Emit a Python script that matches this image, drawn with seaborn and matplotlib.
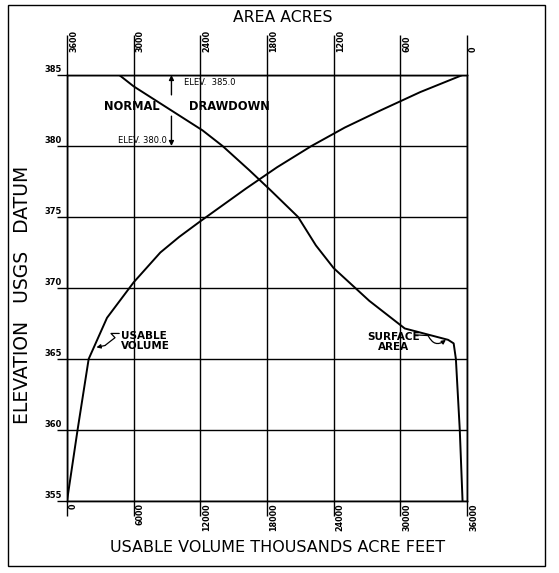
import matplotlib
matplotlib.use("Agg")
import matplotlib.pyplot as plt
from matplotlib.transforms import offset_copy
from matplotlib.patches import Rectangle
import pandas as pd
import seaborn as sns

# Usable volume (thousands acre-feet) against pool elevation
elevation_volume = [355, 360, 365, 367.9, 370.4, 372.5, 373.6, 374.7, 377, 378.5, 380,
                    381.3, 382.5, 383.8, 385]
usable_volume = [0, 950, 1950, 3600, 6000, 8400, 10100, 12000, 16100, 18900, 22000,
                 25000, 28200, 31800, 35600]

# Surface area (acres) against pool elevation
elevation_area = [355, 360, 365, 366.1, 366.35, 367.15, 369.1, 371.4, 373, 375, 376.9,
                  378.3, 380, 381.1, 384.2, 385]
surface_area = [40, 65, 100, 120, 170, 560, 880, 1200, 1360, 1520, 1770,
                1960, 2200, 2380, 3000, 3130]

volume_ticks = [0, 6000, 12000, 18000, 24000, 30000, 36000]
area_ticks = [3600, 3000, 2400, 1800, 1200, 600, 0]
elevation_ticks = [355, 360, 365, 370, 375, 380, 385]

sns.set_theme(style="white")
plt.rcParams["font.family"] = ["DejaVu Sans"]
plt.rcParams["text.color"] = "black"

W, H = 559, 573
fig = plt.figure(figsize=(W / 100, H / 100), dpi=100)
ax = fig.add_axes([67 / W, 1 - 501 / H, 400 / W, 426 / H])

vol_df = pd.DataFrame({"volume": usable_volume, "elevation": elevation_volume})
area_df = pd.DataFrame({"area": surface_area, "elevation": elevation_area})

sns.lineplot(data=vol_df, x="volume", y="elevation", sort=False, estimator=None,
             color="black", lw=1.4, ax=ax)
ax.set_xlim(volume_ticks[0], volume_ticks[-1])
ax.set_ylim(elevation_ticks[0], elevation_ticks[-1])

ax2 = ax.twiny()
sns.lineplot(data=area_df, x="area", y="elevation", sort=False, estimator=None,
             color="black", lw=1.4, ax=ax2)
ax2.set_xlim(area_ticks[0], area_ticks[-1])

for a in (ax, ax2):
    a.set_xlabel("")
    a.set_ylabel("")
    for s in a.spines.values():
        s.set_color("black")
        s.set_linewidth(1.0)

# long engineering-style ticks, labels drawn beside the lines
ax.set_xticks(volume_ticks)
ax.set_xticklabels([])
ax.set_yticks(elevation_ticks)
ax.set_yticklabels([])
ax.tick_params(axis="x", bottom=True, top=False, direction="out", length=10.8, width=1.0, color="black")
ax.tick_params(axis="y", left=True, right=False, direction="out", length=7.2, width=1.0, color="black")
ax2.set_xticks(area_ticks)
ax2.set_xticklabels([])
ax2.tick_params(axis="x", top=True, bottom=False, direction="out", length=29, width=1.0, color="black")
ax.grid(True, color="black", lw=1.0)
ax2.grid(False)

tick_font = dict(fontsize=5.8, fontweight="bold", color="black")
bottom_tr = offset_copy(ax.get_xaxis_transform(), fig=fig, x=1.5, y=-1.5, units="points")
for v in volume_ticks:
    ax.text(v, 0, str(v), transform=bottom_tr, rotation=90, ha="left", va="top", **tick_font)
top_tr = offset_copy(ax2.get_xaxis_transform(), fig=fig, x=1.5, y=16.5, units="points")
for a in area_ticks:
    ax2.text(a, 1, str(a), transform=top_tr, rotation=90, ha="left", va="bottom", **tick_font)
left_tr = offset_copy(ax.get_yaxis_transform(), fig=fig, x=-3.6, y=0.5, units="points")
for e in elevation_ticks:
    ax.text(0, e, str(e), transform=left_tr, ha="right", va="bottom", fontsize=6, fontweight="bold")

# axis titles
fig.text(283 / W, 1 - 18 / H, "AREA ACRES", ha="center", va="center", fontsize=11.3)
fig.text(278 / W, 1 - 548 / H, "USABLE VOLUME THOUSANDS ACRE FEET", ha="center", va="center", fontsize=11.5)
fig.text(23 / W, 1 - 295 / H, "ELEVATION   USGS   DATUM", rotation=90, ha="center", va="center", fontsize=13.5)

# drawdown notes
bold = dict(fontweight="bold", color="black")
ax.text(5800, 382.75, "NORMAL", ha="center", va="center", fontsize=8.3, **bold)
ax.text(14600, 382.75, "DRAWDOWN", ha="center", va="center", fontsize=8.3, **bold)
arrow = dict(arrowstyle="-|>", color="black", lw=1.0, mutation_scale=7, shrinkA=0, shrinkB=0)
ax.annotate("", xy=(9400, 385), xytext=(9400, 383.6), arrowprops=arrow)
ax.annotate("", xy=(9400, 380), xytext=(9400, 382.1), arrowprops=arrow)
ax.text(10500, 384.45, "ELEV.  385.0", ha="left", va="center", fontsize=6)
ax.text(9000, 380.08, "ELEV. 380.0", ha="right", va="bottom", fontsize=6)

# curve labels with leaders
ax.text(4900, 366.3, "USABLE\nVOLUME", ha="left", va="center", fontsize=7.5, linespacing=1.0, **bold)
ax.plot([4700, 3960, 4320, 3870, 3420], [366.8, 366.8, 366.5, 366.23, 365.95], color="black", lw=0.9)
ax.annotate("", xy=(2650, 365.82), xytext=(3420, 365.95),
            arrowprops=dict(arrowstyle="-|>", color="black", lw=0.9, mutation_scale=6, shrinkA=0, shrinkB=0))

ax.text(29400, 366.2, "SURFACE\nAREA", ha="center", va="center", fontsize=7.5, linespacing=1.0, **bold)
ax.plot([31300, 32500], [366.7, 366.65], color="black", lw=0.9)
ax.annotate("", xy=(34100, 366.35), xytext=(32500, 366.65),
            arrowprops=dict(arrowstyle="-|>", color="black", lw=0.9, mutation_scale=6,
                            shrinkA=0, shrinkB=0, connectionstyle="arc3,rad=0.6"))

# sheet border
fig.add_artist(Rectangle((8 / W, 1 - 566 / H), (545 - 8) / W, (566 - 5) / H,
                         transform=fig.transFigure, fill=False, ec="black", lw=1.0))

fig.savefig("out.png", dpi=100, facecolor="white")
